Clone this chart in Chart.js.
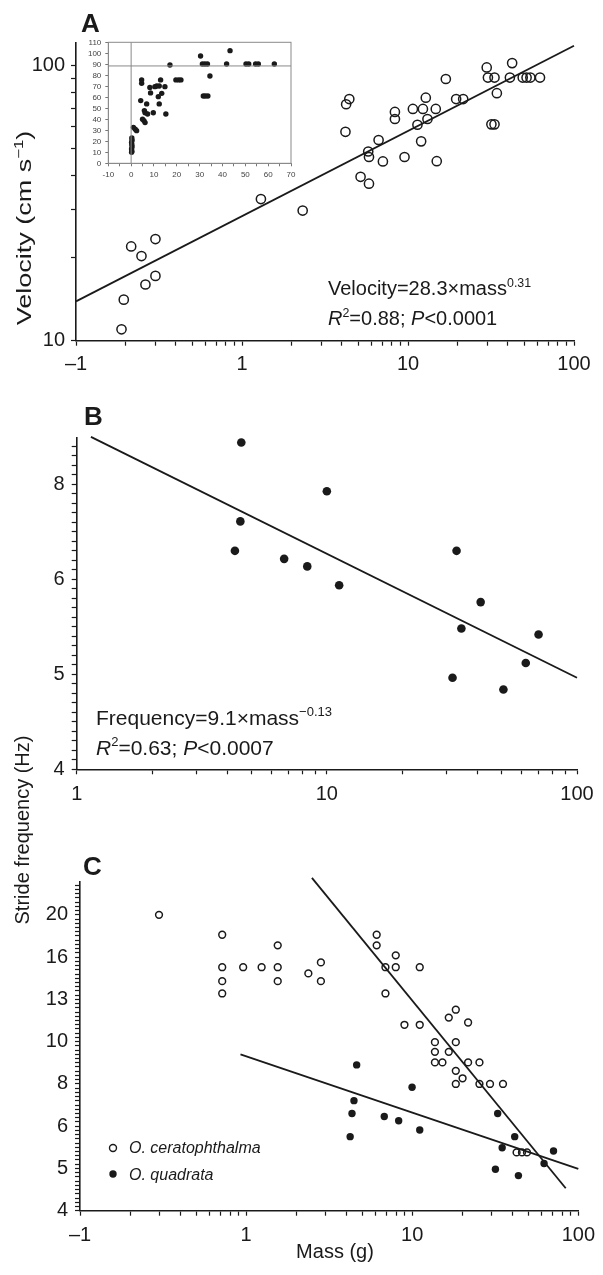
<!DOCTYPE html>
<html>
<head>
<meta charset="utf-8">
<title>Velocity and stride frequency vs mass</title>
<script src="https://cdn.jsdelivr.net/npm/chart.js@4.4.1/dist/chart.umd.min.js"></script>
<style>
  html, body { margin: 0; padding: 0; background: #fff; }
  #fig { position: relative; width: 603px; height: 1275px; overflow: hidden; }
  #fig canvas { position: absolute; }
</style>
</head>
<body>
<div id="fig">
  <canvas id="chartB" width="603" height="420" style="left:0;top:385px"></canvas>
  <canvas id="chartC" width="603" height="585" style="left:0;top:690px"></canvas>
  <canvas id="chartA" width="603" height="385" style="left:0;top:0"></canvas>
  <canvas id="inset" width="220" height="152" style="left:80px;top:33px"></canvas>
</div>
<script>
// Panel A: velocity (cm/s) against mass (g), log-log
const aMass = [0.188, 0.194, 0.215, 0.248, 0.262, 0.301, 0.301, 1.30, 2.32, 4.20, 4.24, 4.43,
  5.18, 5.76, 5.82, 5.82, 6.65, 7.06, 8.34, 8.34, 9.53, 10.7, 11.4, 12.0, 12.3, 12.8, 13.1,
  14.7, 14.9, 16.9, 19.5, 21.5, 29.8, 30.3, 31.8, 33.2, 33.2, 34.3, 41.1, 42.4, 49.1, 51.8,
  54.6, 62.4];
const aVel = [11.0, 14.1, 22.0, 20.3, 16.0, 23.4, 17.2, 32.7, 29.7, 57.4, 72.3, 75.5,
  39.4, 48.7, 46.5, 37.2, 53.6, 44.8, 67.8, 63.9, 46.5, 69.5, 60.9, 53.0, 69.5, 76.4, 63.9,
  69.5, 44.9, 89.3, 75.5, 75.5, 98.4, 90.4, 61.1, 61.1, 90.4, 79.3, 90.4, 102, 90.4, 90.4,
  90.4, 90.4];
const aFitMass = [0.1, 100];
const aFitVel = [13.9, 118];

// Inset of A: same data on linear axes
const insetMass = [0.2, 0.3, 0.2, 0.4, 0.3, 0.2, 0.4, 0.3, 1.0, 1.8, 2.4,
  4.2, 4.6, 4.6, 5.0, 5.6, 6.1, 5.8, 6.1, 6.8, 7.2, 8.2, 8.5, 9.7, 10.4, 11.2, 11.9, 12.3,
  12.9, 13.4, 12.3, 14.8, 15.2, 17.0, 19.6, 20.8, 21.8, 30.4, 31.2, 32.3, 33.4, 31.6, 32.5,
  33.6, 34.5, 41.8, 43.3, 50.3, 51.5, 54.5, 55.7, 62.7];
const insetVel = [10, 11, 13, 15, 17, 19, 21, 23, 32.7, 30.9, 29.7,
  57, 75.8, 72.7, 40, 38.8, 37, 47.9, 46, 54, 44.8, 69, 64, 46, 69.7, 70.3, 60.6, 54,
  75.8, 63.6, 70.3, 69.7, 44.8, 89.4, 75.8, 75.8, 75.8, 97.6, 90.3, 90.3, 90.3, 61.2, 61.2,
  61.2, 79.4, 90.3, 102.4, 90.3, 90.3, 90.3, 90.3, 90.3];
const insetRefVel = 88.5;

// Panel B: stride frequency (Hz) of O. quadrata
const bMass = [4.55, 4.51, 4.29, 6.75, 8.35, 10.0, 11.2, 33.0, 34.5, 31.8, 41.2, 50.8, 62.4, 70.2];
const bFreq = [8.79, 7.26, 6.76, 6.63, 6.51, 7.81, 6.22, 6.76, 5.60, 4.97, 5.97, 4.83, 5.15, 5.52];
const bFitMass = [1.14, 100];
const bFitFreq = [8.91, 4.97];

// Panel C: both species
const cOpenMass = [0.299, 0.718, 0.718, 0.718, 0.718, 0.96, 1.24, 1.55, 1.55, 1.55, 2.37, 2.82,
  2.82, 6.11, 6.11, 6.90, 6.90, 7.96, 7.96, 8.98, 11.1, 11.1, 13.7, 13.7, 13.7, 15.2, 16.6,
  16.6, 18.3, 18.3, 18.3, 18.3, 20.1, 21.7, 21.7, 25.4, 25.4, 29.4, 35.2, 42.5, 45.8, 49.1];
const cOpenFreq = [19.95, 17.9, 15.0, 13.9, 13.0, 15.0, 15.0, 16.9, 15.0, 13.9, 14.5, 15.4,
  13.9, 17.9, 16.9, 15.0, 13.0, 16.0, 15.0, 10.96, 15.0, 10.96, 9.97, 9.46, 8.93, 8.93, 11.4,
  9.46, 11.9, 9.97, 8.53, 7.94, 8.19, 11.1, 8.93, 8.93, 7.94, 7.94, 7.94, 5.47, 5.47, 5.47];
const cFillMass = [4.63, 4.46, 4.34, 4.23, 6.79, 8.29, 9.98, 11.1, 32.7, 34.8, 31.7, 41.4, 43.6, 62.2, 70.9];
const cFillFreq = [8.81, 7.25, 6.76, 5.96, 6.65, 6.50, 7.80, 6.18, 6.76, 5.61, 4.99, 5.96, 4.82, 5.15, 5.51];
const cOpenFitMass = [2.49, 84];
const cOpenFitFreq = [24.4, 4.50];
const cFillFitMass = [0.925, 100];
const cFillFitFreq = [9.33, 5.0];

// tick labels
const massMajor = [0.1, 1, 10, 100];
const massLabels = ['\u20131', '1', '10', '100'];
const bMassMajor = [1, 10, 100];
const bMassLabels = ['1', '10', '100'];
const velMajor = [10, 100];
const velLabels = ['10', '100'];
const freqMajor = [3.981, 5.012, 6.310, 7.943, 10.0, 12.59, 15.85, 19.95];
const freqLabels = ['4', '5', '6', '8', '10', '13', '16', '20'];

const FONT = "'Liberation Sans', Arial, Helvetica, sans-serif";
const INK = '#1a1a1a';
Chart.defaults.font.family = FONT;
Chart.defaults.color = INK;

const pts = (xs, ys) => xs.map((x, i) => ({ x: x, y: ys[i] }));

// 1..9 subdivisions for each decade
function decadeTicks(from, to) {
  const out = [];
  for (let d = from; d < to * 0.999; d *= 10) {
    for (let k = 1; k < 10; k++) out.push(d * k);
  }
  out.push(to);
  return out;
}
// evenly spaced in log10 (the freq axes)
function logStepTicks(fromExp, toExp, step) {
  const out = [];
  for (let e = fromExp; e <= toExp + 1e-9; e += step) out.push(Math.pow(10, e));
  return out;
}
function tickLabel(majors, labels) {
  return function (value) {
    const i = majors.findIndex(m => Math.abs(m - value) <= m * 1e-3);
    return i < 0 ? '' : labels[i];
  };
}

function logScale(o) {
  return {
    type: 'logarithmic',
    min: o.min,
    max: o.max,
    afterBuildTicks: s => { s.ticks = o.ticks.map(v => ({ value: v })); },
    afterFit: s => { if (s.isHorizontal()) s.height = o.size; else s.width = o.size; },
    ticks: {
      autoSkip: false, maxRotation: 0, minRotation: 0,
      padding: o.pad, font: { size: 20 }, color: INK,
      callback: tickLabel(o.major, o.labels)
    },
    grid: { drawOnChartArea: false, drawTicks: true, tickLength: 5, tickColor: INK, tickWidth: 1.2 },
    border: { display: true, color: INK, width: 1.6 }
  };
}

function notesPlugin(items) {
  return {
    id: 'notes',
    afterDraw(chart) {
      const ctx = chart.ctx;
      items.forEach(it => {
        ctx.save();
        ctx.translate(it.x, it.y);
        if (it.marker) {
          ctx.beginPath();
          ctx.arc(0, 0, it.r, 0, Math.PI * 2);
          if (it.marker === 'filled') { ctx.fillStyle = INK; ctx.fill(); }
          else { ctx.lineWidth = 1.4; ctx.strokeStyle = INK; ctx.stroke(); }
          ctx.restore();
          return;
        }
        if (it.rotate) ctx.rotate(it.rotate);
        if (it.stretch) ctx.scale(it.stretch, 1);
        const runs = it.parts.map(p => {
          const size = p.sup ? it.size * 0.62 : it.size;
          const font = (p.italic ? 'italic ' : '') + (p.bold ? 'bold ' : '') + size + 'px ' + FONT;
          ctx.font = font;
          return { p: p, font: font, w: ctx.measureText(p.t).width };
        });
        const total = runs.reduce((s, r) => s + r.w, 0);
        let x = it.align === 'center' ? -total / 2 : 0;
        ctx.fillStyle = INK;
        ctx.textBaseline = 'alphabetic';
        ctx.textAlign = 'left';
        runs.forEach(r => {
          ctx.font = r.font;
          ctx.fillText(r.p.t, x, r.p.sup ? -it.size * 0.42 : 0);
          x += r.w;
        });
        ctx.restore();
      });
    }
  };
}

function panel(id, datasets, xAxis, yAxis, padding, notes, extra) {
  return new Chart(document.getElementById(id), {
    type: 'scatter',
    data: { datasets: datasets },
    options: {
      responsive: false,
      animation: false,
      devicePixelRatio: 1,
      layout: { padding: padding },
      plugins: { legend: { display: false }, tooltip: { enabled: false } },
      scales: { x: xAxis, y: yAxis }
    },
    plugins: [notesPlugin(notes)].concat(extra || [])
  });
}

const openDots = (data, r) => ({
  data: data, pointRadius: r, pointBorderWidth: 1.5,
  pointBorderColor: INK, pointBackgroundColor: 'rgba(0,0,0,0)'
});
const filledDots = (data, r) => ({
  data: data, pointRadius: r, pointBorderWidth: 0,
  pointBorderColor: INK, pointBackgroundColor: INK
});
const fitLine = data => ({
  data: data, showLine: true, borderColor: INK, borderWidth: 1.8, pointRadius: 0, clip: 10
});

// ---- Panel A
panel('chartA',
  [openDots(pts(aMass, aVel), 4.6), fitLine(pts(aFitMass, aFitVel))],
  logScale({ min: 0.1, max: 100, ticks: decadeTicks(0.1, 100), major: massMajor, labels: massLabels, size: 40, pad: 7 }),
  logScale({ min: 10, max: 121, ticks: decadeTicks(10, 100), major: velMajor, labels: velLabels, size: 76, pad: 6 }),
  { left: 0, top: 42.7, right: 29, bottom: 4.3 },
  [
    { x: 81, y: 32, size: 26, parts: [{ t: 'A', bold: true }] },
    { x: 31, y: 228, size: 20, rotate: -Math.PI / 2, align: 'center', stretch: 1.35,
      parts: [{ t: 'Velocity (cm s' }, { t: '\u22121', sup: true }, { t: ')' }] },
    { x: 328, y: 295, size: 20, parts: [{ t: 'Velocity=28.3\u00d7mass' }, { t: '0.31', sup: true }] },
    { x: 328, y: 325, size: 20, parts: [{ t: 'R', italic: true }, { t: '2', sup: true }, { t: '=0.88; ' },
      { t: 'P', italic: true }, { t: '<0.0001' }] }
  ]);

// ---- Inset
const insetFrame = {
  id: 'insetFrame',
  beforeDatasetsDraw(chart) {
    const a = chart.chartArea, ctx = chart.ctx;
    ctx.save();
    ctx.strokeStyle = '#8a8a8a';
    ctx.lineWidth = 1;
    ctx.strokeRect(a.left, a.top, a.right - a.left, a.bottom - a.top);
    ctx.restore();
  }
};
const insetAxis = (min, max, step, size, pad, every) => ({
  type: 'linear', min: min, max: max,
  afterFit: s => { if (s.isHorizontal()) s.height = size; else s.width = size; },
  ticks: {
    stepSize: step, autoSkip: false, maxRotation: 0, padding: pad,
    font: { size: 8 }, color: '#444',
    callback: v => (v % every === 0 ? String(v) : '')
  },
  grid: { drawOnChartArea: false, tickLength: 3, tickColor: '#777', tickWidth: 1 },
  border: { color: '#8a8a8a', width: 1 }
});
new Chart(document.getElementById('inset'), {
  type: 'scatter',
  data: {
    datasets: [
      { data: pts([-10, 70], [insetRefVel, insetRefVel]), showLine: true, borderColor: '#8a8a8a', borderWidth: 1, pointRadius: 0 },
      { data: pts([0, 0], [0, 110]), showLine: true, borderColor: '#8a8a8a', borderWidth: 1, pointRadius: 0 },
      filledDots(pts(insetMass, insetVel), 2.7)
    ]
  },
  options: {
    responsive: false, animation: false, devicePixelRatio: 1,
    layout: { padding: { left: 0, top: 9.3, right: 9, bottom: 3.7 } },
    plugins: { legend: { display: false }, tooltip: { enabled: false } },
    scales: { x: insetAxis(-10, 70, 5, 18, 4, 10), y: insetAxis(0, 110, 10, 28.3, 4, 10) }
  },
  plugins: [insetFrame]
});

// ---- Panel B
panel('chartB',
  [filledDots(pts(bMass, bFreq), 4.3), fitLine(pts(bFitMass, bFitFreq))],
  logScale({ min: 1, max: 100, ticks: decadeTicks(1, 100), major: bMassMajor, labels: bMassLabels, size: 32, pad: 8 }),
  logScale({ min: 3.981, max: 8.886, ticks: logStepTicks(0.6, 0.94, 0.01), major: freqMajor, labels: freqLabels, size: 76.7, pad: 7 }),
  { left: 0, top: 53, right: 26, bottom: 3.7 },
  [
    { x: 84, y: 40, size: 26, parts: [{ t: 'B', bold: true }] },
    { x: 96, y: 340, size: 21, parts: [{ t: 'Frequency=9.1\u00d7mass' }, { t: '\u22120.13', sup: true }] },
    { x: 96, y: 370, size: 21, parts: [{ t: 'R', italic: true }, { t: '2', sup: true }, { t: '=0.63; ' },
      { t: 'P', italic: true }, { t: '<0.0007' }] }
  ]);

// ---- Panel C
panel('chartC',
  [openDots(pts(cOpenMass, cOpenFreq), 3.4), filledDots(pts(cFillMass, cFillFreq), 3.7),
   fitLine(pts(cOpenFitMass, cOpenFitFreq)), fitLine(pts(cFillFitMass, cFillFitFreq))],
  logScale({ min: 0.1, max: 100, ticks: decadeTicks(0.1, 100), major: massMajor, labels: massLabels, size: 40, pad: 8 }),
  logScale({ min: 3.981, max: 23.9, ticks: logStepTicks(0.6, 1.37, 0.01), major: freqMajor, labels: freqLabels, size: 80, pad: 7 }),
  { left: 0, top: 191.7, right: 18, bottom: 24.3 },
  [
    { x: 83, y: 185, size: 26, parts: [{ t: 'C', bold: true }] },
    { x: 29, y: 140, size: 20, rotate: -Math.PI / 2, align: 'center',
      parts: [{ t: 'Stride frequency (Hz)' }] },
    { x: 335, y: 568, size: 20, align: 'center', parts: [{ t: 'Mass (g)' }] },
    { marker: 'open', x: 113, y: 458, r: 3.5 },
    { marker: 'filled', x: 113, y: 484, r: 3.7 },
    { x: 129, y: 463, size: 16, parts: [{ t: 'O. ceratophthalma', italic: true }] },
    { x: 129, y: 490, size: 16, parts: [{ t: 'O. quadrata', italic: true }] }
  ]);
</script>
</body>
</html>
